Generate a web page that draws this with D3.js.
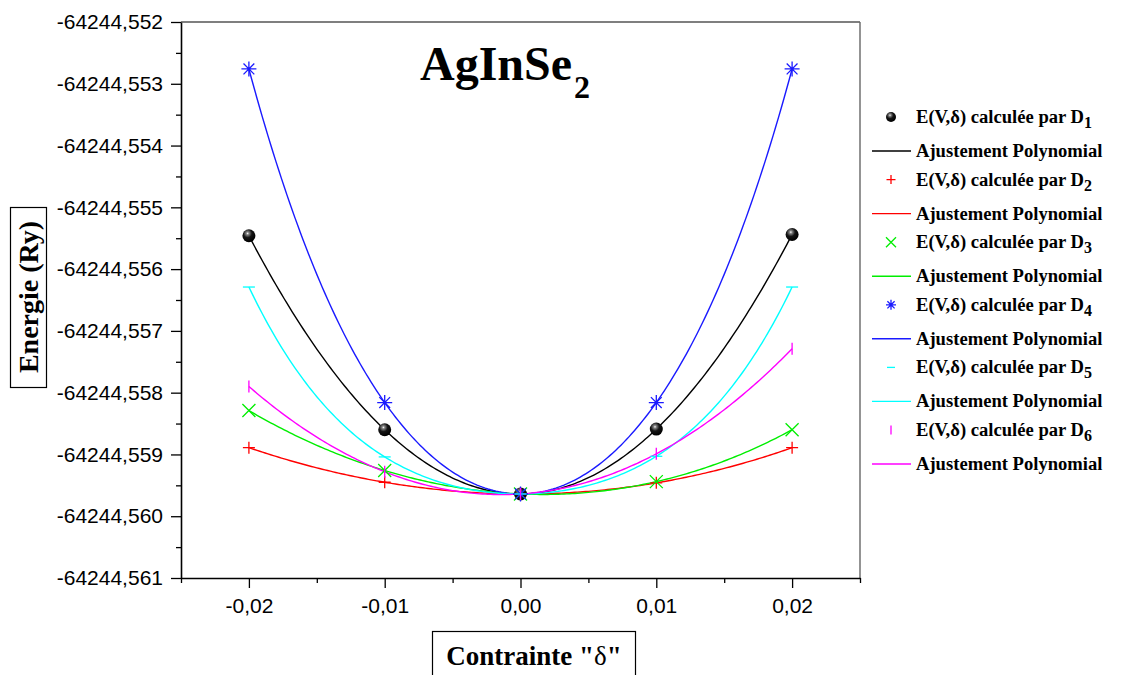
<!DOCTYPE html>
<html>
<head>
<meta charset="utf-8">
<script src="https://cdn.jsdelivr.net/npm/d3@7"></script>
<style>
  body { margin: 0; background: #fff; }
  svg { display: block; }
</style>
</head>
<body>
<svg id="chart" width="1121" height="675"></svg>
<script>
// Strain values (delta) and total energies (Ry) for the six deformations D1..D6
const strains = [-0.02, -0.01, 0.00, 0.01, 0.02];
const energyD1 = [-64244.55546, -64244.55860, -64244.55964, -64244.55859, -64244.55544];
const energyD2 = [-64244.55889, -64244.55945, -64244.55964, -64244.55946, -64244.55889];
const energyD3 = [-64244.55829, -64244.55926, -64244.55964, -64244.55944, -64244.55860];
const energyD4 = [-64244.55276, -64244.55816, -64244.55964, -64244.55816, -64244.55276];
const energyD5 = [-64244.55629, -64244.55904, -64244.55964, -64244.55903, -64244.55629];
const energyD6 = [-64244.55790, -64244.55928, -64244.55964, -64244.55899, -64244.55729];

const seriesNames = ["D1", "D2", "D3", "D4", "D5", "D6"];
const seriesColors = ["#000000", "#ff0000", "#00ee00", "#1a1aff", "#00ffff", "#ff00ff"];
const seriesMarkers = ["sphere", "plus", "cross", "star", "hdash", "vbar"];

const xMajorTicks = [-0.02, -0.01, 0.00, 0.01, 0.02];
const xMinorTicks = [-0.025, -0.015, -0.005, 0.005, 0.015, 0.025];
const yMajorTicks = [-64244.552, -64244.553, -64244.554, -64244.555, -64244.556,
                     -64244.557, -64244.558, -64244.559, -64244.560, -64244.561];
const yMinorTicks = [-64244.5525, -64244.5535, -64244.5545, -64244.5555, -64244.5565,
                     -64244.5575, -64244.5585, -64244.5595, -64244.5605];

const titleMain = "AgInSe";
const titleSub = "2";
const yLabel = "Energie (Ry)";
const legendPointText = "E(V,δ) calculée par D";
const legendFitText = "Ajustement Polynomial";

const series = [energyD1, energyD2, energyD3, energyD4, energyD5, energyD6].map((e, i) => ({
  name: seriesNames[i],
  sub: String(i + 1),
  color: seriesColors[i],
  marker: seriesMarkers[i],
  points: strains.map((s, j) => ({ x: s, y: e[j] }))
}));

// Polynomial through the computed points (Lagrange form), evaluated on a fine grid
function polyFit(points) {
  const y0 = points[2].y;
  return x => {
    let sum = 0;
    for (let i = 0; i < points.length; i++) {
      let term = points[i].y - y0;
      for (let j = 0; j < points.length; j++) {
        if (j !== i) term *= (x - points[j].x) / (points[i].x - points[j].x);
      }
      sum += term;
    }
    return y0 + sum;
  };
}

const svg = d3.select("#chart");
const plot = { left: 181, right: 860, top: 22, bottom: 578 };

const x = d3.scaleLinear().domain([-0.025, 0.025]).range([plot.left, plot.right]);
const y = d3.scaleLinear().domain([-64244.561, -64244.552]).range([plot.bottom, plot.top]);

const locale = d3.formatLocale({ decimal: ",", thousands: "", grouping: [3], currency: ["", ""], minus: "-" });
const fmtY = locale.format(".3f");
const fmtX = locale.format(".2f");

const sansFont = "'Liberation Sans', Arial, sans-serif";
const serifFont = "'Liberation Serif', 'Times New Roman', serif";

// Plot frame
svg.append("line").attr("x1", plot.left).attr("x2", plot.right).attr("y1", plot.top).attr("y2", plot.top)
  .attr("stroke", "#000").attr("stroke-width", 1.2);
svg.append("line").attr("x1", plot.right).attr("x2", plot.right).attr("y1", plot.top).attr("y2", plot.bottom)
  .attr("stroke", "#666").attr("stroke-width", 1.4);

// Axes
const yAxis = svg.append("g").attr("transform", `translate(${plot.left},0)`)
  .call(d3.axisLeft(y).tickValues(yMajorTicks).tickFormat(fmtY).tickSize(10).tickPadding(8).tickSizeOuter(0));
svg.append("g").attr("transform", `translate(${plot.left},0)`)
  .call(d3.axisLeft(y).tickValues(yMinorTicks).tickFormat("").tickSize(5).tickSizeOuter(0))
  .select(".domain").remove();

const xAxis = svg.append("g").attr("transform", `translate(0,${plot.bottom})`)
  .call(d3.axisBottom(x).tickValues(xMajorTicks).tickFormat(fmtX).tickSize(10).tickPadding(10).tickSizeOuter(0));
svg.append("g").attr("transform", `translate(0,${plot.bottom})`)
  .call(d3.axisBottom(x).tickValues(xMinorTicks).tickFormat("").tickSize(5).tickSizeOuter(0))
  .select(".domain").remove();

svg.selectAll(".domain").attr("stroke", "#000").attr("stroke-width", 1.6);
svg.selectAll(".tick line").attr("stroke", "#000").attr("stroke-width", 1.3);
yAxis.selectAll("text").attr("font-family", sansFont).attr("font-size", 21).attr("fill", "#000");
xAxis.selectAll("text").attr("font-family", sansFont).attr("font-size", 21).attr("fill", "#000");

// Sphere shading
const defs = svg.append("defs");
const grad = defs.append("radialGradient").attr("id", "ball")
  .attr("cx", "40%").attr("cy", "32%").attr("r", "65%");
grad.append("stop").attr("offset", "0%").attr("stop-color", "#ffffff");
grad.append("stop").attr("offset", "15%").attr("stop-color", "#8a8a8a");
grad.append("stop").attr("offset", "50%").attr("stop-color", "#151515");
grad.append("stop").attr("offset", "100%").attr("stop-color", "#000000");

// Marker drawing
function drawMarker(g, kind, color, s) {
  if (kind === "sphere") {
    g.append("circle").attr("r", s / 2).attr("fill", "url(#ball)");
    return;
  }
  let d = "";
  const h = s / 2;
  if (kind === "plus") d = `M${-h},0H${h}M0,${-h}V${h}`;
  else if (kind === "cross") d = `M${-h},${-h}L${h},${h}M${-h},${h}L${h},${-h}`;
  else if (kind === "star") {
    const k = h * 0.72;
    d = `M${-h},0H${h}M0,${-h}V${h}M${-k},${-k}L${k},${k}M${-k},${k}L${k},${-k}`;
  }
  else if (kind === "hdash") d = `M${-h},0H${h}`;
  else if (kind === "vbar") d = `M0,${-h}V${h}`;
  g.append("path").attr("d", d).attr("stroke", color).attr("stroke-width", 1.3).attr("fill", "none");
}

const plotMarkerSize = { sphere: 13, plus: 12, cross: 13, star: 15, hdash: 12, vbar: 12 };
const legendMarkerSize = { sphere: 10, plus: 9, cross: 10, star: 10, hdash: 8, vbar: 9 };

// Fitted curves
const curveX = d3.range(0, 201).map(i => -0.02 + i * 0.0002);
const line = d3.line().x(d => x(d.x)).y(d => y(d.y));
const curves = svg.append("g");
series.forEach(s => {
  const f = polyFit(s.points);
  curves.append("path")
    .attr("d", line(curveX.map(v => ({ x: v, y: f(v) }))))
    .attr("fill", "none").attr("stroke", s.color).attr("stroke-width", 1.4);
});

// Computed points
const marks = svg.append("g");
series.forEach(s => {
  s.points.forEach(p => {
    const g = marks.append("g").attr("transform", `translate(${x(p.x)},${y(p.y)})`);
    drawMarker(g, s.marker, s.color, plotMarkerSize[s.marker]);
  });
});

// Title
const title = svg.append("text").attr("x", 420).attr("y", 80)
  .attr("font-family", serifFont).attr("font-weight", "bold").attr("font-size", 48).attr("fill", "#000");
title.append("tspan").text(titleMain);
title.append("tspan").attr("dx", 2).attr("dy", 18).attr("font-size", 32).text(titleSub);

// Legend
const legend = svg.append("g");
series.forEach((s, i) => {
  const yPt = 117 + i * 62.6;
  const yFit = yPt + 34;
  const gm = legend.append("g").attr("transform", `translate(891,${yPt})`);
  drawMarker(gm, s.marker, s.color, legendMarkerSize[s.marker]);
  const t1 = legend.append("text").attr("x", 916).attr("y", yPt + 6)
    .attr("font-family", serifFont).attr("font-weight", "bold").attr("font-size", 18.6).attr("fill", "#000");
  t1.append("tspan").text(legendPointText);
  t1.append("tspan").attr("dy", 5).attr("font-size", 16).text(s.sub);
  legend.append("line").attr("x1", 872).attr("x2", 911).attr("y1", yFit).attr("y2", yFit)
    .attr("stroke", s.color).attr("stroke-width", 1.4);
  legend.append("text").attr("x", 916).attr("y", yFit + 6)
    .attr("font-family", serifFont).attr("font-weight", "bold").attr("font-size", 18.6).attr("fill", "#000")
    .text(legendFitText);
});

// Axis titles in boxes
svg.append("rect").attr("x", 10.5).attr("y", 207.5).attr("width", 36).attr("height", 180)
  .attr("fill", "none").attr("stroke", "#000").attr("stroke-width", 1.2);
svg.append("text").attr("transform", "translate(38,297) rotate(-90)")
  .attr("text-anchor", "middle").attr("font-family", serifFont).attr("font-weight", "bold")
  .attr("font-size", 28).attr("fill", "#000").text(yLabel);

svg.append("rect").attr("x", 432.5).attr("y", 631.5).attr("width", 203).attr("height", 60)
  .attr("fill", "none").attr("stroke", "#000").attr("stroke-width", 1.2);
const xl = svg.append("text").attr("x", 534).attr("y", 665).attr("text-anchor", "middle")
  .attr("font-family", serifFont).attr("font-weight", "bold").attr("font-size", 27).attr("fill", "#000");
xl.append("tspan").text("Contrainte \"");
xl.append("tspan").attr("font-weight", "normal").text("δ");
xl.append("tspan").text("\"");
</script>
</body>
</html>
